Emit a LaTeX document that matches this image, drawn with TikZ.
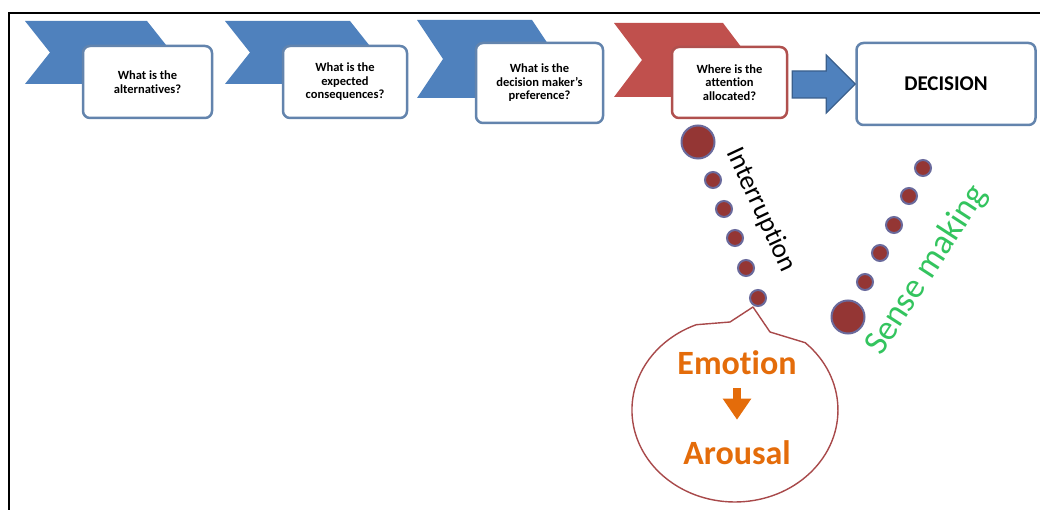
\documentclass[tikz,border=0pt]{standalone}
\usepackage{fontspec}
\setmainfont{Carlito}[Ligatures=NoCommon]
\usetikzlibrary{calc,arrows.meta}
\definecolor{chevblue}{HTML}{4F81BD}
\definecolor{chevred}{HTML}{C0504D}
\definecolor{boxblue}{HTML}{6384AD}
\definecolor{boxred}{HTML}{B0504E}
\definecolor{arrowedge}{HTML}{3A5F8C}
\definecolor{dotfill}{HTML}{943634}
\definecolor{dotedge}{HTML}{6A6A9C}
\definecolor{bubbleedge}{HTML}{A8494A}
\definecolor{emoorange}{HTML}{E46C0A}
\definecolor{sensegreen}{HTML}{33C45E}

\begin{document}
\begin{tikzpicture}[x=1pt,y=-1pt,
  chevron/.style={fill=chevblue},
  redchevron/.style={fill=chevred},
  qbox/.style={draw=boxblue, line width=2.5pt, rounded corners=7pt, fill=white,
    align=center, inner sep=0pt, font=\bfseries\fontsize{12.5}{13.5}\selectfont},
  bigdot/.style={circle, inner sep=0pt, minimum size=33pt, fill=dotfill, draw=dotedge, line width=2pt},
  smalldot/.style={circle, inner sep=0pt, minimum size=16pt, fill=dotfill, draw=dotedge, line width=2pt},
  bubble/.style={draw=bubbleedge, line width=1.4pt, fill=white, line join=round},
  emotext/.style={text=emoorange, inner sep=0pt, font=\bfseries\fontsize{34}{36}\selectfont},
  blockarrow/.style={fill=chevblue, draw=arrowedge, line width=1.2pt, line join=miter},
  downarrow/.style={draw=emoorange, line width=8pt, -{Triangle[width=27pt,length=21pt]}}
]
\useasboundingbox (0,0) rectangle (1040,510);
\fill[white] (0,0) rectangle (1040,510);
% frame lines along the top and left edges
\draw[line width=2pt] (9,510) -- (9,13) -- (1040,13);

% chevrons behind the question boxes
\fill[chevron] (25,21) -- (147,21) -- (172,52.5) -- (147,84) -- (25,84) -- (50,52.5) -- cycle;
\fill[chevron] (225,21) -- (350,21) -- (375,52.5) -- (350,84) -- (225,84) -- (250,52.5) -- cycle;
\fill[chevron] (417,20) -- (532,20) -- (558,59) -- (532,98) -- (417,98) -- (443,59) -- cycle;
\fill[redchevron] (614,23) -- (723,23) -- (751,60) -- (723,97) -- (614,97) -- (642,60) -- cycle;

% question boxes
\node[qbox, minimum width=129pt, minimum height=72pt] (b1) at (147.5,82) {What is the\\alternatives?};
\node[qbox, minimum width=124pt, minimum height=72pt] (b2) at (345,82) {What is the\\expected\\consequences?};
\node[qbox, minimum width=127pt, minimum height=80pt] (b3) at (539.5,83) {What is the\\decision maker's\\preference?};
\node[qbox, draw=boxred, minimum width=115pt, minimum height=71pt] (b4) at (729.5,82.5) {Where is the\\attention\\allocated?};
\node[qbox, minimum width=179pt, minimum height=82pt, font=\bfseries\fontsize{21}{24}\selectfont] (dec) at (946,84) {DECISION};

% block arrow towards the decision
\draw[blockarrow]
  ($(b4.east |- dec.west)+(4,-13)$) -- ($(dec.west)+(-29,-13)$) -- ($(dec.west)+(-29,-29)$)
  -- (dec.west)
  -- ($(dec.west)+(-29,29)$) -- ($(dec.west)+(-29,14)$) -- ($(b4.east |- dec.west)+(4,14)$) -- cycle;

% interruption trail
\node[bigdot] (i0) at (698,142) {};
\node[smalldot] (i1) at (713,180) {};
\node[smalldot] (i2) at (724,209) {};
\node[smalldot] (i3) at (735,238) {};
\node[smalldot] (i4) at (746,268) {};
\node[smalldot] (i5) at (758,298) {};
\node[rotate=-65, inner sep=0pt, font=\fontsize{27}{30}\selectfont] (intr) at (761,210) {Interruption};

% sense-making trail
\node[bigdot] (s0) at (848,317) {};
\node[smalldot] (s1) at (865,282) {};
\node[smalldot] (s2) at (880,253) {};
\node[smalldot] (s3) at (894,225) {};
\node[smalldot] (s4) at (909,196) {};
\node[smalldot] (s5) at (923,168) {};
\node[rotate=57, inner sep=0pt, text=sensegreen, font=\fontsize{35}{38}\selectfont] (sense) at (927,270) {Sense making};

% speech bubble with its tail pointing up at the last dot
\coordinate (tip) at (753,307);
\draw[bubble] (696.4,324.7) -- (730,322) -- (tip) -- (770,332) -- (805.2,342.7)
  arc[start angle=-47, end angle=248, x radius=103, y radius=92] -- cycle;
\node[emotext] (emo) at (737,363) {Emotion};
\node[emotext] (aro) at (737,453) {Arousal};
\draw[downarrow] ([yshift=-13pt]emo.south) -- ([yshift=21pt]aro.north);
\end{tikzpicture}
\end{document}
